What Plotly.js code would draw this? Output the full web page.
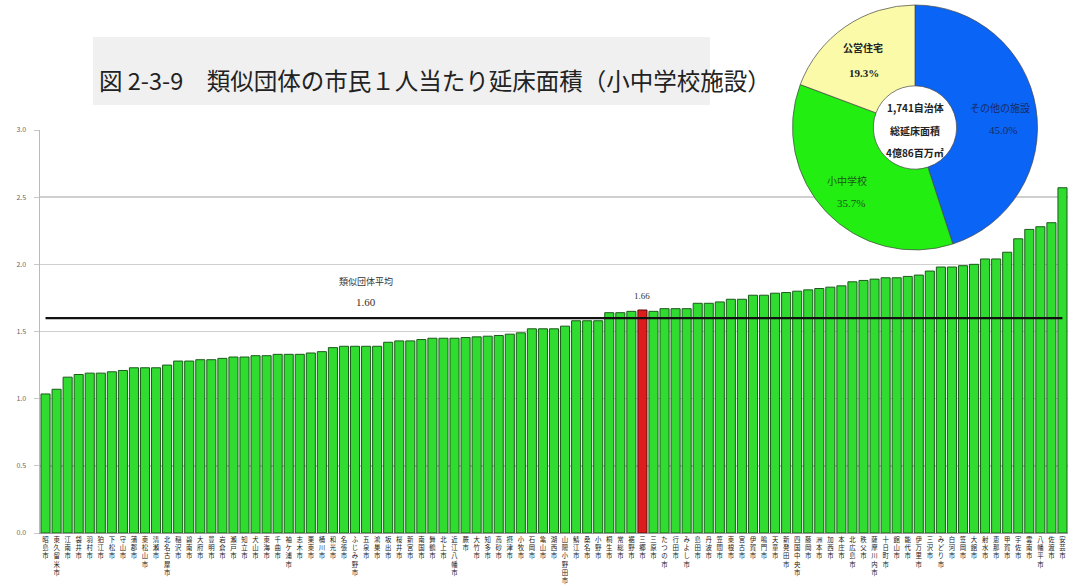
<!DOCTYPE html>
<html><head><meta charset="utf-8">
<script src="https://cdn.plot.ly/plotly-3.0.1.min.js"></script>
<style>html,body{margin:0;padding:0;background:#fff}#chart{width:1070px;height:588px}</style>
</head><body><div id="chart"></div>
<script>
const cities=['昭島市','東久留米市','江南市','袋井市','羽村市','狛江市','下松市','守山市','蒲郡市','東松山市',
'清瀬市','北名古屋市','稲沢市','碧南市','大府市','豊明市','岩倉市','瀬戸市','知立市','犬山市',
'東海市','千曲市','袖ケ浦市','志木市','栗東市','桶川市','和光市','名張市','ふじみ野市','五泉市',
'鴻巣市','坂出市','桜井市','新宮市','南国市','舞鶴市','北上市','近江八幡市','蕨市','大竹市',
'知多市','高砂市','摂津市','小牧市','石岡市','亀山市','湖西市','山陽小野田市','鯖江市','桑名市',
'小野市','桐生市','常総市','裾野市','三郷市','三原市','たつの市','行田市','みよし市','島田市',
'丹波市','笠間市','東根市','宮古市','伊賀市','鳴門市','天童市','新発田市','四国中央市','藤岡市',
'洲本市','加西市','本庄市','北広島市','秩父市','薩摩川内市','十日町市','館山市','能代市','伊万里市',
'三沢市','みどり市','白河市','笠岡市','大館市','射水市','恵那市','甲賀市','宇佐市','雲南市',
'八幡平市','佐渡市','安芸市'];
const values=[1.035,1.07,1.16,1.18,1.19,1.19,1.20,1.21,1.23,1.23,
1.23,1.25,1.28,1.28,1.29,1.29,1.30,1.31,1.31,1.32,
1.32,1.33,1.33,1.33,1.34,1.35,1.38,1.39,1.39,1.39,
1.39,1.42,1.43,1.43,1.44,1.45,1.45,1.45,1.455,1.46,
1.465,1.47,1.48,1.49,1.52,1.52,1.52,1.54,1.58,1.58,
1.58,1.64,1.64,1.65,1.66,1.65,1.67,1.67,1.67,1.71,
1.71,1.72,1.74,1.74,1.77,1.77,1.785,1.79,1.80,1.81,
1.82,1.83,1.84,1.87,1.88,1.89,1.90,1.90,1.91,1.92,
1.95,1.98,1.98,1.99,2.00,2.04,2.04,2.09,2.19,2.26,
2.28,2.31,2.57];
const highlightCity='三郷市';
const highlightLabel='1.66';
const averageValue=1.60;
const averageName='類似団体平均';
const averageLabel='1.60';
const averageLabelCity='五泉市';
const pieLabels=['その他の施設','小中学校','公営住宅'];
const pieShares=[45.0,35.7,19.3];
const pieShareLabels=['45.0%','35.7%','19.3%'];
const pieCenterLines=['1,741自治体','総延床面積','4億86百万㎡'];
const yTicks=[0,0.5,1,1.5,2,2.5,3];
const yTickLabels=['0.0','0.5','1.0','1.5','2.0','2.5','3.0'];
const titleText='図 2-3-9　類似団体の市民１人当たり延床面積（小中学校施設）';

const W=1070,H=588;
const px=x=>x/W, py=y=>1-y/H;
const JP='"Noto Sans CJK JP", "Noto Sans", sans-serif';
const SERIF='"Liberation Serif", serif';

const barColors=cities.map(c=>c===highlightCity?'#dd1c1c':'#2fdc2f');
const barLines=cities.map(c=>c===highlightCity?'#5a0c0c':'#1d5a1d');
const hi=cities.indexOf(highlightCity);

const traces=[
 {type:'bar',x:cities,y:values,marker:{color:barColors,line:{color:barLines,width:1}},hoverinfo:'x+y'},
 {type:'scatter',mode:'lines',x:[cities[0],cities[cities.length-1]],y:[averageValue,averageValue],
  line:{color:'#111',width:2.2},hoverinfo:'skip'},
 {type:'pie',labels:pieLabels,values:pieShares,sort:false,direction:'clockwise',rotation:0,hole:0.34,
  marker:{colors:['#0a64f5','#22ee11','#fafaa8'],line:{color:'rgba(70,70,70,0.7)',width:1}},
  textinfo:'none',hoverinfo:'label+percent',showlegend:false,
  domain:{x:[px(790),px(1040)],y:[py(250),py(5)]}}
];

function pa(x,y,text,font){return {xref:'paper',yref:'paper',x:px(x),y:py(y),xanchor:'center',yanchor:'middle',showarrow:false,text:text,font:font};}

const ann=[
 {xref:'paper',yref:'paper',x:px(97),y:py(80),xanchor:'left',yanchor:'middle',showarrow:false,
  text:titleText,font:{family:JP,size:23.5,color:'#222'}},
 {x:averageLabelCity,y:averageValue,xref:'x',yref:'y',xanchor:'center',yanchor:'bottom',yshift:28,showarrow:false,
  text:averageName,font:{family:JP,size:9,color:'#333'}},
 {x:averageLabelCity,y:averageValue,xref:'x',yref:'y',xanchor:'center',yanchor:'bottom',yshift:8,showarrow:false,
  text:averageLabel,font:{family:SERIF,size:11,color:'#333'}},
 {x:highlightCity,y:values[hi],xref:'x',yref:'y',xanchor:'center',yanchor:'bottom',yshift:7,showarrow:false,
  text:highlightLabel,font:{family:SERIF,size:9,color:'#333'}},
 pa(1000,107,pieLabels[0],{family:JP,size:10,color:'#1a2a66'}),
 pa(1003,130,pieShareLabels[0],{family:SERIF,size:11,color:'#1a2a66'}),
 pa(847,180,pieLabels[1],{family:JP,size:10,color:'#1c551c'}),
 pa(851,203,pieShareLabels[1],{family:SERIF,size:11,color:'#1c551c'}),
 pa(863,48,'<b>'+pieLabels[2]+'</b>',{family:JP,size:10,color:'#222'}),
 pa(864,73,'<b>'+pieShareLabels[2]+'</b>',{family:SERIF,size:11,color:'#222'})
];
pieCenterLines.forEach((t,i)=>ann.push(pa(915,108+i*22,'<b>'+t+'</b>',{family:JP,size:10,color:'#222'})));

const layout={
 width:W,height:H,margin:{l:0,r:0,t:0,b:0},paper_bgcolor:'#fff',plot_bgcolor:'#fff',
 showlegend:false,bargap:0.18,
 xaxis:{domain:[px(40),px(1068)],type:'category',tickmode:'array',tickvals:cities,
  ticktext:cities.map(c=>Array.from(c).join('<br>')),tickangle:0,
  tickfont:{family:JP,size:6.4,color:'#222'},ticks:'',showgrid:false,zeroline:false,
  showline:true,linecolor:'#999',linewidth:1,fixedrange:true},
 yaxis:{domain:[1-533/H,1-130/H],range:[0,3],tickmode:'array',tickvals:yTicks,ticktext:yTickLabels,
  tickfont:{family:JP,size:7,color:'#666'},ticks:'outside',ticklen:5,tickcolor:'#c8c8c8',ticklabelstandoff:6,
  showgrid:true,gridcolor:'#cfcfcf',gridwidth:1.5,zeroline:false,showline:true,linecolor:'#bbb',linewidth:1.5,fixedrange:true},
 shapes:[{type:'rect',xref:'paper',yref:'paper',x0:px(93),x1:px(710),y0:py(105),y1:py(37),
  fillcolor:'#f0f0f0',line:{width:0},layer:'below'}],
 annotations:ann
};
Plotly.newPlot('chart',traces,layout,{displayModeBar:false,staticPlot:true});
</script></body></html>
